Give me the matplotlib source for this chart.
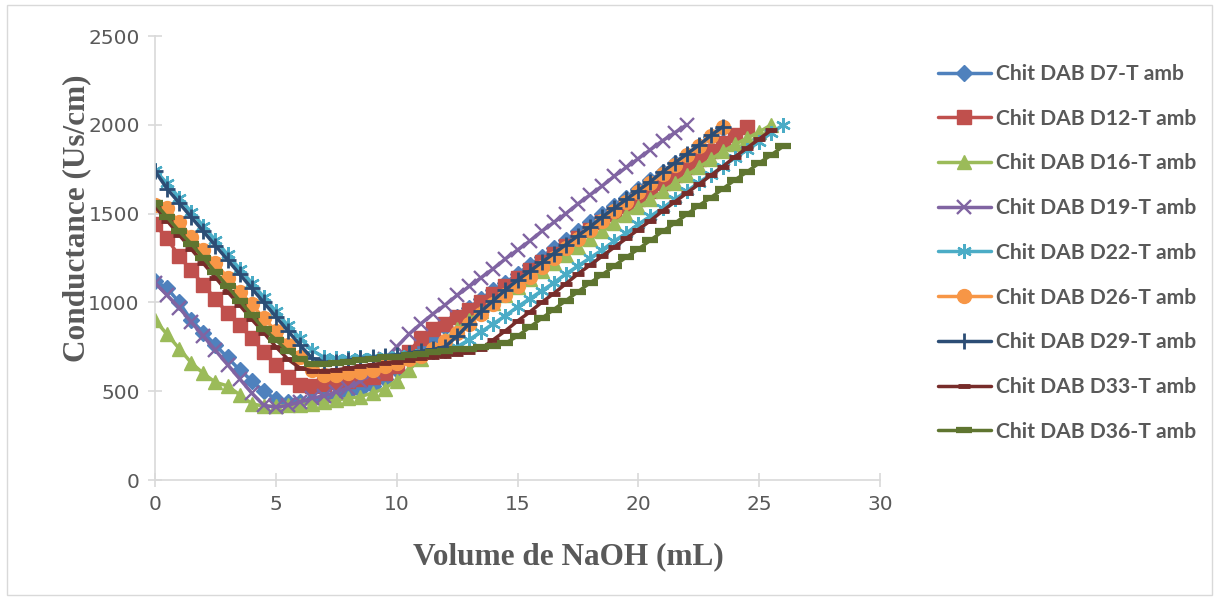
import matplotlib
matplotlib.use('Agg')
import matplotlib.pyplot as plt
from matplotlib.patches import Rectangle

# Conductimetric titration curves (one reading every 0.5 mL of NaOH)
volume = [0, 0.5, 1, 1.5, 2, 2.5, 3, 3.5, 4, 4.5, 5, 5.5, 6, 6.5, 7, 7.5, 8, 8.5, 9, 9.5,
          10, 10.5, 11, 11.5, 12, 12.5, 13, 13.5, 14, 14.5, 15, 15.5, 16, 16.5, 17, 17.5,
          18, 18.5, 19, 19.5, 20, 20.5, 21, 21.5, 22, 22.5, 23, 23.5, 24, 24.5, 25, 25.5, 26]

d7 = [1120, 1080, 1000, 900, 830, 760, 690, 620, 560, 500, 455, 440, 440, 450, 460, 475, 490, 505, 530, 570,
      620, 680, 740, 800, 860, 915, 970, 1020, 1070, 1110, 1160, 1210, 1255, 1305, 1350, 1400,
      1450, 1495, 1545, 1590, 1640, 1690, 1735, 1785, 1830, 1880, 1930, 1980]
d12 = [1440, 1360, 1260, 1180, 1100, 1020, 940, 870, 800, 720, 650, 580, 535, 530, 540, 550, 560, 570, 580, 600,
       640, 720, 800, 850, 880, 920, 960, 1000, 1045, 1090, 1135, 1180, 1225, 1270, 1315, 1360,
       1405, 1450, 1495, 1540, 1585, 1630, 1675, 1720, 1765, 1810, 1855, 1900, 1945, 1990]
d16 = [900, 820, 740, 660, 600, 550, 530, 480, 430, 415, 415, 420, 425, 430, 440, 450, 460, 470, 490, 515,
       560, 620, 680, 730, 790, 850, 900, 950, 995, 1040, 1085, 1130, 1175, 1220, 1265, 1310,
       1355, 1400, 1445, 1490, 1535, 1580, 1625, 1670, 1715, 1760, 1805, 1850, 1890, 1925, 1960, 2000]
d19 = [1110, 1040, 970, 890, 810, 730, 650, 570, 490, 420, 410, 420, 440, 460, 475, 495, 520, 555, 610, 680,
       750, 820, 880, 935, 985, 1040, 1090, 1140, 1190, 1245, 1295, 1345, 1400, 1450, 1500, 1555,
       1605, 1655, 1710, 1760, 1810, 1860, 1910, 1955, 2000]
d22 = [1745, 1670, 1590, 1510, 1430, 1350, 1270, 1190, 1110, 1030, 950, 870, 800, 730, 690, 685, 685, 690, 695, 700,
       705, 710, 715, 720, 725, 750, 790, 835, 880, 925, 975, 1020, 1065, 1110, 1160, 1205,
       1250, 1295, 1345, 1390, 1440, 1485, 1530, 1580, 1625, 1675, 1720, 1765, 1815, 1860, 1905, 1955, 2000]
d26 = [1550, 1530, 1450, 1370, 1295, 1220, 1140, 1060, 990, 910, 840, 760, 690, 620, 590, 590, 600, 610, 620, 640,
       660, 680, 700, 740, 780, 830, 880, 935, 990, 1040, 1095, 1145, 1200, 1250, 1305, 1355,
       1410, 1460, 1515, 1565, 1620, 1670, 1725, 1775, 1830, 1880, 1935, 1990]
d29 = [1740, 1640, 1560, 1480, 1400, 1320, 1240, 1160, 1080, 1000, 920, 840, 760, 685, 665, 665, 675, 685, 690, 700,
       705, 715, 725, 735, 750, 810, 880, 950, 1010, 1070, 1125, 1175, 1225, 1275, 1325, 1375,
       1425, 1480, 1530, 1580, 1630, 1680, 1735, 1785, 1835, 1885, 1940, 1990]
d33 = [1540, 1460, 1380, 1300, 1220, 1140, 1060, 985, 905, 830, 750, 680, 630, 615, 615, 620, 630, 640, 650, 660,
       665, 675, 685, 695, 700, 710, 720, 740, 790, 840, 895, 945, 1000, 1050, 1105, 1160,
       1210, 1260, 1310, 1360, 1410, 1460, 1515, 1565, 1615, 1665, 1715, 1765, 1820, 1870, 1920, 1970]
d36 = [1560, 1480, 1400, 1330, 1250, 1170, 1090, 1010, 930, 850, 790, 725, 680, 655, 655, 660, 665, 675, 680, 690,
       695, 705, 710, 720, 725, 735, 740, 750, 755, 770, 810, 860, 910, 960, 1010, 1060,
       1110, 1155, 1205, 1255, 1300, 1350, 1400, 1445, 1495, 1545, 1590, 1640, 1690, 1735, 1785, 1830, 1880]

labels = ['Chit DAB D7-T amb', 'Chit DAB D12-T amb', 'Chit DAB D16-T amb', 'Chit DAB D19-T amb',
          'Chit DAB D22-T amb', 'Chit DAB D26-T amb', 'Chit DAB D29-T amb', 'Chit DAB D33-T amb',
          'Chit DAB D36-T amb']
series = [d7, d12, d16, d19, d22, d26, d29, d33, d36]

colors = ['#4F81BD', '#C0504D', '#9BBB59', '#8064A2', '#4BACC6', '#F79646', '#2C4D75', '#772C2A', '#5F7530']
markers = ['D', 's', '^', 'x', (6, 2, 0), 'o', '+', '_', '_']
msizes = [8.5, 10, 10.5, 9.5, 10.5, 10, 11.5, 9, 11]
mews = [1, 1, 1, 1.7, 1.7, 1, 2, 3.5, 4.5]

fig = plt.figure(figsize=(12.19, 6.0), dpi=100)
ax = fig.add_axes([155 / 1219, 1 - 480 / 600, 725 / 1219, 444 / 600])

for y, lab, c, m, ms, mew in zip(series, labels, colors, markers, msizes, mews):
    ax.plot(volume[:len(y)], y, color=c, lw=2.5, marker=m, ms=ms, mew=mew,
            mec=c, mfc=c, label=lab, solid_capstyle='round')

ax.set_xlim(0, 30)
ax.set_ylim(0, 2500)
ax.set_xticks(range(0, 31, 5))
ax.set_yticks(range(0, 2501, 500))

for s in ['top', 'right']:
    ax.spines[s].set_visible(False)
for s in ['left', 'bottom']:
    ax.spines[s].set_color('#d9d9d9')
    ax.spines[s].set_linewidth(1.2)
ax.tick_params(direction='inout', length=10, width=1.2, color='#d9d9d9',
               labelcolor='#595959', labelsize=14.5)
ax.tick_params(axis='y', pad=6)
ax.tick_params(axis='x', pad=6)

fig.text(77 / 1219, 1 - 218 / 600, 'Conductance (Us/cm)', rotation=90, ha='center', va='center',
         family='Liberation Serif', fontweight='bold', fontsize=22.5, color='#595959')
fig.text(568 / 1219, 1 - 557 / 600, 'Volume de NaOH (mL)', ha='center', va='center',
         family='Liberation Serif', fontweight='bold', fontsize=22.5, color='#595959')

leg = fig.legend(loc='upper left', bbox_to_anchor=(938 / 1219, 1 - 64 / 600), frameon=False,
                 borderpad=0, borderaxespad=0, handlelength=2.5, handletextpad=0.25,
                 labelspacing=1.17, prop={'family': 'Lato', 'weight': 'bold', 'size': 15.2})
for t in leg.get_texts():
    t.set_color('#595959')

fig.patches.append(Rectangle((7 / 1219, 5 / 600), 1 - 14 / 1219, 1 - 10 / 600, transform=fig.transFigure,
                             fill=False, edgecolor='#d9d9d9', lw=1))

fig.savefig('out.png', dpi=100, facecolor='white')
